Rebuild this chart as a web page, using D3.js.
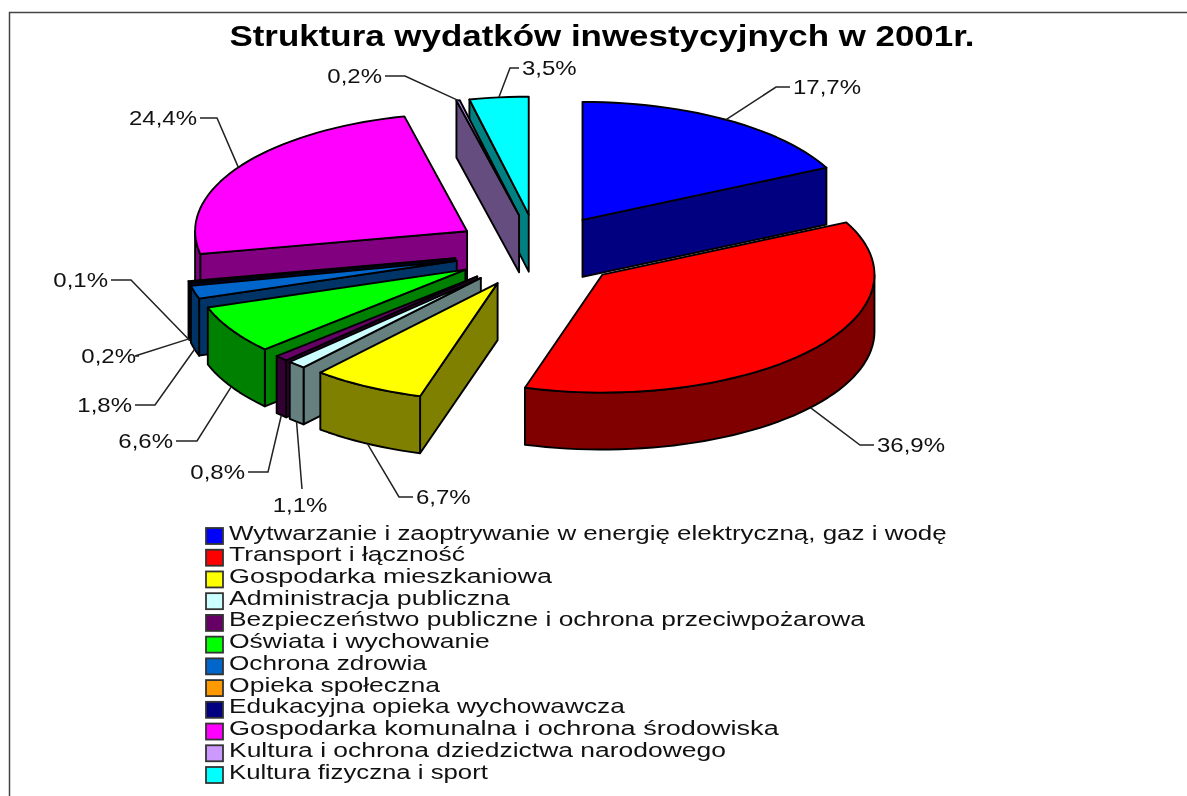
<!DOCTYPE html>
<html>
<head>
<meta charset="utf-8">
<script src="https://cdn.jsdelivr.net/npm/d3@7"></script>
<style>
  html, body { margin: 0; padding: 0; background: white; overflow: hidden; }
  svg { display: block; }
  text { font-family: "Liberation Sans", Arial, sans-serif; fill: #111; }
  .slice path { stroke: black; stroke-width: 1.9; stroke-linejoin: round; }
  .slice.thin path { stroke-width: 0.9; }
  .leader { fill: none; stroke: #222; stroke-width: 1.5; }
</style>
</head>
<body>
<div id="wykres"></div>
<script>
var title = "Struktura wydatków inwestycyjnych w 2001r.";
var categories = [
  "Wytwarzanie i zaoptrywanie w energię elektryczną, gaz i wodę",
  "Transport i łączność",
  "Gospodarka mieszkaniowa",
  "Administracja publiczna",
  "Bezpieczeństwo publiczne i ochrona przeciwpożarowa",
  "Oświata i wychowanie",
  "Ochrona zdrowia",
  "Opieka społeczna",
  "Edukacyjna opieka wychowawcza",
  "Gospodarka komunalna i ochrona środowiska",
  "Kultura i ochrona dziedzictwa narodowego",
  "Kultura fizyczna i sport"
];
var values = [17.7, 36.9, 6.7, 1.1, 0.8, 6.6, 1.8, 0.2, 0.1, 24.4, 0.2, 3.5];
var topColors = ["#0000ff", "#ff0000", "#ffff00", "#ccffff", "#660066", "#00ff00", "#0066cc", "#ff9900", "#000080", "#ff00ff", "#cc99ff", "#00ffff"];
var wallColors = ["#000080", "#800000", "#808000", "#668080", "#330033", "#008000", "#003366", "#804d00", "#000040", "#800080", "#664d80", "#008080"];
// clockwise order of the slices in the picture, the two thinnest ones lie swapped
var sliceOrder = [0, 1, 2, 3, 4, 5, 6, 8, 7, 9, 10, 11];

// where each percent label sits: text anchor point and elbow of its leader line
var labelLayout = [
  { x: 793, y: 87, anchor: "start", elbowX: 776, elbowY: 87 },
  { x: 877, y: 445, anchor: "start", elbowX: 860, elbowY: 445 },
  { x: 416, y: 497, anchor: "start", elbowX: 399, elbowY: 497 },
  { x: 300, y: 505, anchor: "middle", elbowX: 302, elbowY: 489 },
  { x: 245, y: 472, anchor: "end", elbowX: 268, elbowY: 472 },
  { x: 173, y: 441, anchor: "end", elbowX: 197, elbowY: 441 },
  { x: 132, y: 405, anchor: "end", elbowX: 155, elbowY: 405 },
  { x: 136, y: 356, anchor: "end", elbowX: 135, elbowY: 356 },
  { x: 108, y: 280, anchor: "end", elbowX: 131, elbowY: 280 },
  { x: 197, y: 118, anchor: "end", elbowX: 217, elbowY: 118 },
  { x: 382, y: 76, anchor: "end", elbowX: 405, elbowY: 76 },
  { x: 522, y: 68, anchor: "start", elbowX: 510, elbowY: 68 }
];
// right end of every legend text, the stretched original has uneven glyph widths
var legendEnds = [947, 465, 552, 510, 865, 490, 427, 440, 625, 779, 726, 488];

var width = 1187, height = 796;
var cx = 538, cy = 251, rx = 272, ry = 118, depth = 57, explode = 0.31;

var svg = d3.select("#wykres").append("svg")
  .attr("width", width)
  .attr("height", height)
  .style("filter", "blur(0.55px)");

// frame of the original screenshot
svg.append("path")
  .attr("d", "M9.5," + height + "V12.5H" + width)
  .attr("fill", "none")
  .attr("stroke", "#444")
  .attr("stroke-width", 1.5);

svg.append("text")
  .attr("transform", "translate(602,46) scale(1.164,1)")
  .attr("text-anchor", "middle")
  .attr("font-size", 30)
  .attr("font-weight", "bold")
  .style("fill", "#000")
  .text(title);

var xscale = d3.scaleLinear().domain([-1, 1]).range([cx - rx, cx + rx]);
var yscale = d3.scaleLinear().domain([-1, 1]).range([cy - ry, cy + ry]);

// angle 0 at 12 o'clock, clockwise
function unit(a) { return [Math.sin(a), -Math.cos(a)]; }
function project(p, drop) { return [xscale(p[0]), yscale(p[1]) + (drop || 0)]; }

var arcs = d3.pie()
  .value(function (i) { return values[i]; })
  .sort(function (x, y) { return d3.ascending(sliceOrder.indexOf(x), sliceOrder.indexOf(y)); })(d3.range(values.length))
  .map(function (d) {
    var mid = (d.startAngle + d.endAngle) / 2;
    var m = unit(mid);
    return {
      i: d.data,
      a0: d.startAngle,
      a1: d.endAngle,
      mid: mid,
      off: [m[0] * explode, m[1] * explode]
    };
  });

function rimPoints(s, a0, a1, drop) {
  var n = Math.max(2, Math.ceil((a1 - a0) / 0.04));
  return d3.range(n + 1).map(function (k) {
    var u = unit(a0 + (a1 - a0) * k / n);
    return project([u[0] + s.off[0], u[1] + s.off[1]], drop);
  });
}

var line = d3.line();
function closed(pts) { return line(pts) + "Z"; }

// back slices first, front ones over them
var order = arcs.slice().sort(function (x, y) {
  return d3.ascending(x.off[1], y.off[1]);
});

var groups = svg.selectAll("g.slice").data(order).enter().append("g")
  .attr("class", function (s) { return values[s.i] < 0.15 ? "slice thin" : "slice"; });

groups.each(function (s) {
  var g = d3.select(this);
  var apex = project(s.off);
  var apexLow = project(s.off, depth);
  var wall = wallColors[s.i];

  // radial walls, only those that face the viewer
  function radial(a) {
    var top = rimPoints(s, a, a, 0)[0];
    var low = rimPoints(s, a, a, depth)[0];
    g.append("path").attr("d", closed([apex, top, low, apexLow])).attr("fill", wall);
  }
  if (Math.sin(s.a0) < 0) radial(s.a0);
  if (Math.sin(s.a1) > 0) radial(s.a1);

  // rim wall, the part between 3 and 9 o'clock
  var f0 = Math.max(s.a0, Math.PI / 2), f1 = Math.min(s.a1, Math.PI * 1.5);
  if (f1 > f0) {
    var upper = rimPoints(s, f0, f1, 0);
    var lower = rimPoints(s, f0, f1, depth).reverse();
    g.append("path").attr("d", closed(upper.concat(lower))).attr("fill", wall);
  }

  g.append("path")
    .attr("d", closed([apex].concat(rimPoints(s, s.a0, s.a1, 0))))
    .attr("fill", topColors[s.i]);
});

// percent labels with leader lines
var fmt = function (v) { return d3.format(".1f")(v).replace(".", ",") + "%"; };
arcs.forEach(function (s) {
  var l = labelLayout[s.i];
  var front = Math.cos(s.mid) < 0;
  var start = rimPoints(s, s.mid, s.mid, front ? depth : 0)[0];
  var stub = l.anchor == "start" ? l.x - 3 : (l.anchor == "end" ? l.x + 3 : l.elbowX);
  svg.append("path")
    .attr("class", "leader")
    .attr("d", line([start, [l.elbowX, l.elbowY], [stub, l.elbowY]]));
  svg.append("text")
    .attr("transform", "translate(" + l.x + "," + (l.y + 7) + ") scale(1.2,1)")
    .attr("text-anchor", l.anchor)
    .attr("font-size", 20)
    .text(fmt(values[s.i]));
});

// legend
var ylegend = d3.scalePoint().domain(categories).range([536, 775]);
var legend = svg.selectAll("g.legend").data(categories).enter().append("g")
  .attr("class", "legend")
  .attr("transform", function (d) { return "translate(0," + ylegend(d) + ")"; });

legend.append("rect")
  .attr("x", 206)
  .attr("y", -8)
  .attr("width", 17)
  .attr("height", 16)
  .attr("fill", function (d, i) { return topColors[i]; })
  .attr("stroke", "#333")
  .attr("stroke-width", 1.8);

legend.append("text")
  .attr("font-size", 21)
  .text(function (d) { return d; })
  .attr("transform", function (d, i) {
    var sx = (legendEnds[i] - 229) / this.getComputedTextLength();
    return "translate(229,3.5) scale(" + sx + ",1)";
  });
</script>
</body>
</html>
